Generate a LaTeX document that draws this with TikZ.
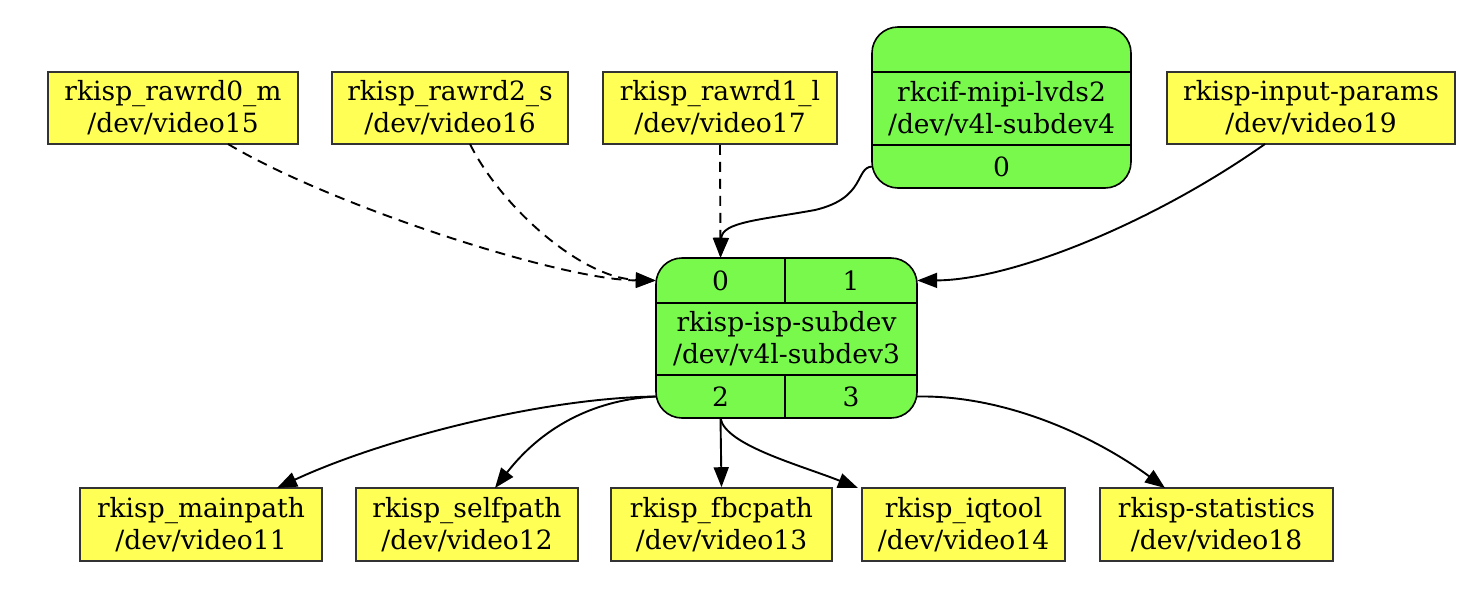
\documentclass[tikz,border=0pt]{standalone}
\usepackage{fontspec}
\setmainfont{DejaVu Serif}
\usetikzlibrary{arrows.meta}
\definecolor{ybox}{RGB}{255,255,85}
\definecolor{gbox}{RGB}{122,249,77}
\tikzset{
  yellowbox/.style={draw=black!80, line width=1.6pt, fill=ybox, inner sep=0pt, align=center,
    font=\fontsize{26.5}{32}\selectfont},
  cell/.style={inner sep=0pt, font=\fontsize{26.5}{32}\selectfont, align=center},
  conn/.style={line width=1.9pt, -{Triangle[length=20pt,width=15pt]}},
  dconn/.style={conn, dash pattern=on 10pt off 7pt},
}
\begin{document}
\begin{tikzpicture}[x=1pt,y=-1pt]
\useasboundingbox (0,0) rectangle (1481,600);
% top row
\node[yellowbox, minimum width=250, minimum height=72] (r0) at (173,108) {rkisp\_rawrd0\_m\\/dev/video15};
\node[yellowbox, minimum width=236, minimum height=72] (r2) at (450,108) {rkisp\_rawrd2\_s\\/dev/video16};
\node[yellowbox, minimum width=234, minimum height=72] (r1) at (720,108) {rkisp\_rawrd1\_l\\/dev/video17};
\node[yellowbox, minimum width=288, minimum height=72] (ip) at (1311,108) {rkisp-input-params\\/dev/video19};
% rkcif record
\draw[line width=1.6pt, fill=gbox, rounded corners=26pt] (872,27) rectangle (1131,188);
\draw[line width=1.6pt] (872,72) -- (1131,72) (872,145) -- (1131,145);
\node[cell, minimum width=259, minimum height=45] (rct) at (1001.5,49.5) {};
\node[cell, minimum width=259, minimum height=73] (rcm) at (1001.5,108.5) {rkcif-mipi-lvds2\\/dev/v4l-subdev4};
\node[cell, minimum width=259, minimum height=43] (rc0) at (1001.5,166.5) {0};
% isp record
\draw[line width=1.6pt, fill=gbox, rounded corners=26pt] (656,258) rectangle (917,418);
\draw[line width=1.6pt] (656,303) -- (917,303) (656,375) -- (917,375) (785,258) -- (785,303) (785,375) -- (785,418);
\node[cell, minimum width=129, minimum height=45] (p0) at (720.5,280.5) {0};
\node[cell, minimum width=132, minimum height=45] (p1) at (851,280.5) {1};
\node[cell, minimum width=261, minimum height=72] (ispm) at (786.5,339) {rkisp-isp-subdev\\/dev/v4l-subdev3};
\node[cell, minimum width=129, minimum height=43] (p2) at (720.5,396.5) {2};
\node[cell, minimum width=132, minimum height=43] (p3) at (851,396.5) {3};
% bottom row
\node[yellowbox, minimum width=242, minimum height=73] (mp) at (201,524.5) {rkisp\_mainpath\\/dev/video11};
\node[yellowbox, minimum width=222, minimum height=73] (sp) at (467,524.5) {rkisp\_selfpath\\/dev/video12};
\node[yellowbox, minimum width=221, minimum height=73] (fp) at (721.5,524.5) {rkisp\_fbcpath\\/dev/video13};
\node[yellowbox, minimum width=203, minimum height=73] (iq) at (963.5,524.5) {rkisp\_iqtool\\/dev/video14};
\node[yellowbox, minimum width=233, minimum height=73] (st) at (1216.5,524.5) {rkisp-statistics\\/dev/video18};
% coordinates for edge ends
\coordinate (r0s) at (228,144);
\coordinate (r2s) at (470,144);
\coordinate (ips) at (1265,144);
\coordinate (mpn) at (277,488);
\coordinate (spn) at (495,488);
\coordinate (iqn) at (858,488);
\coordinate (stn) at (1165,488);
% edges
\draw[dconn] (r0s) .. controls (330,205) and (560,280) .. (p0.west);
\draw[dconn] (r2s) .. controls (500,205) and (580,278) .. (p0.west);
\draw[dconn] (r1.south) -- (p0.north);
\draw[conn] (rc0.west) .. controls (855,168) and (866,198) .. (815,210) .. controls (760,220) and (722,222) .. (p0.north);
\draw[conn] (ips) .. controls (1150,225) and (1010,280) .. (p1.east);
\draw[conn] (p2.west) .. controls (540,398) and (380,440) .. (mpn);
\draw[conn] (p2.west) .. controls (590,400) and (540,430) .. (spn);
\draw[conn] (p2.south) -- (fp.north);
\draw[conn] (p2.south) .. controls (725,445) and (800,465) .. (iqn);
\draw[conn] (p3.east) .. controls (1010,395) and (1100,440) .. (stn);
\end{tikzpicture}
\end{document}
